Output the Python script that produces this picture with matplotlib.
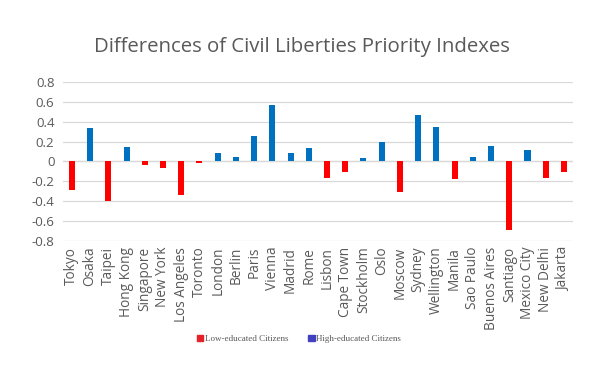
import matplotlib
matplotlib.use("Agg")
import matplotlib.pyplot as plt
from matplotlib.patches import Patch

cities = ["Tokyo", "Osaka", "Taipei", "Hong Kong", "Singapore", "New York",
          "Los Angeles", "Toronto", "London", "Berlin", "Paris", "Vienna",
          "Madrid", "Rome", "Lisbon", "Cape Town", "Stockholm", "Oslo",
          "Moscow", "Sydney", "Wellington", "Manila", "Sao Paulo",
          "Buenos Aires", "Santiago", "Mexico City", "New Delhi", "Jakarta"]
values = [-0.29, 0.34, -0.40, 0.15, -0.04, -0.07,
          -0.34, -0.02, 0.09, 0.05, 0.26, 0.57,
          0.09, 0.14, -0.17, -0.11, 0.03, 0.20,
          -0.31, 0.47, 0.35, -0.18, 0.05,
          0.16, -0.69, 0.12, -0.17, -0.11]
yticks = [-0.8, -0.6, -0.4, -0.2, 0, 0.2, 0.4, 0.6, 0.8]
ytick_labels = ["-0.8", "-0.6", "-0.4", "-0.2", "0", "0.2", "0.4", "0.6", "0.8"]
title = "Differences of Civil Liberties Priority Indexes"
legend_labels = ["Low-educated Citizens", "High-educated Citizens"]

RED = "#FF0000"
BLUE = "#0070C0"
LEG_RED = "#E8202A"
LEG_BLUE = "#4040C0"
GRAY = "#595959"

plt.rcParams['font.family'] = ['Open Sans', 'DejaVu Sans']

fig = plt.figure(figsize=(5.92, 3.67), dpi=100)
ax = fig.add_axes([0.106, 0.343, 0.862, 0.434])

x = list(range(len(cities)))
colors = [RED if v < 0 else BLUE for v in values]
ax.bar(x, values, width=0.33, color=colors, zorder=3)

ax.set_xlim(-0.5, len(cities) - 0.5)
ax.set_ylim(-0.8, 0.8)
ax.set_yticks(yticks)
ax.set_yticklabels(ytick_labels)
ax.set_xticks(x)
ax.set_xticklabels(cities, rotation=90)
ax.tick_params(axis='both', length=0, labelcolor=GRAY, labelsize=9.5)
ax.tick_params(axis='x', pad=4, labelsize=9.8)
ax.tick_params(axis='y', pad=6)
ax.grid(axis='y', color="#D9D9D9", linewidth=0.9, zorder=0)
ax.axhline(0, color="#D9D9D9", linewidth=0.9, zorder=1)
for s in ax.spines.values():
    s.set_visible(False)

fig.text(0.51, 0.872, title, ha='center', va='center', fontsize=14.7, color=GRAY)

handles = [Patch(color=LEG_RED), Patch(color=LEG_BLUE)]
leg = fig.legend(handles, legend_labels, loc='center', bbox_to_anchor=(0.505, 0.077),
                 ncol=2, frameon=False,
                 prop={'family': 'Liberation Serif', 'size': 6.5},
                 handlelength=0.7, handleheight=0.7, handletextpad=0.15,
                 columnspacing=2.2, labelcolor=GRAY)

fig.savefig("out.png", dpi=100)
